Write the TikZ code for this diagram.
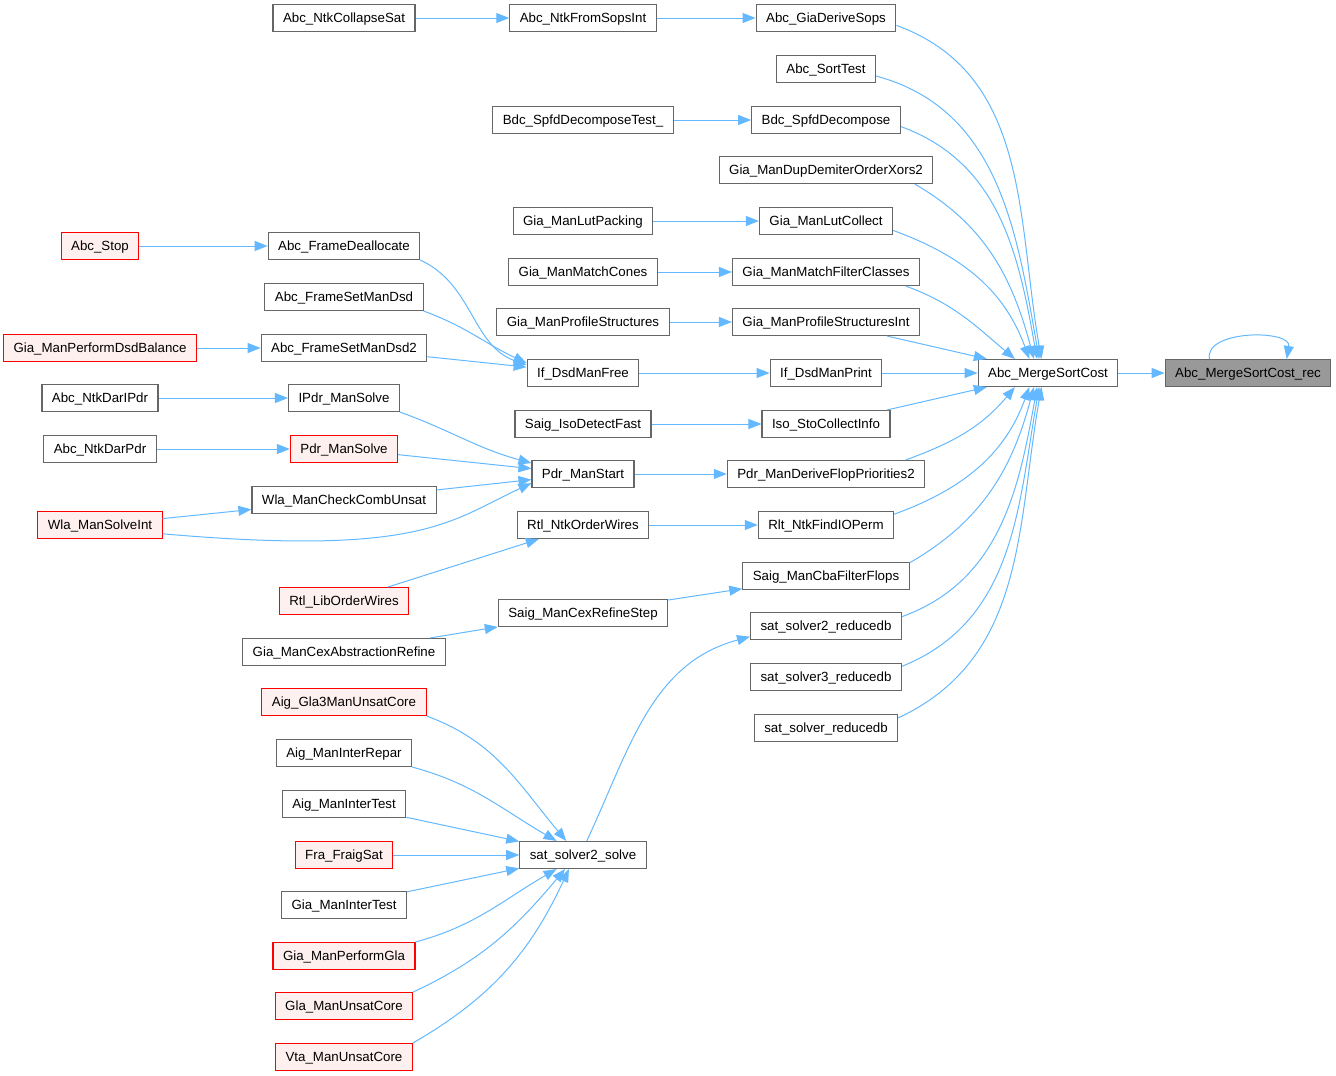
\documentclass[tikz,border=0pt]{standalone}
\usepackage{fontspec}
\setmainfont{Liberation Sans}
\usetikzlibrary{arrows.meta}
\definecolor{edgeblue}{HTML}{63B8FF}
\definecolor{boxgray}{HTML}{666666}
\definecolor{hitred}{HTML}{FF0000}
\definecolor{hitfill}{HTML}{FFF0F0}
\definecolor{curfill}{HTML}{999999}

\begin{document}
\begin{tikzpicture}[x=1pt,y=1pt,
  fn/.style={draw=boxgray,fill=white,line width=1.1pt,minimum height=27pt,
             inner xsep=10pt,inner ysep=0pt,text height=10.5pt,text depth=1pt,
             font=\fontsize{13.3}{15}\selectfont},
  fnred/.style={fn,draw=hitred,fill=hitfill},
  fncur/.style={fn,fill=curfill},
  arr/.style={-{Triangle[length=13pt,width=10pt]},edgeblue,line width=1pt}]
\useasboundingbox (0,0) rectangle (1336,-1076);
% function and its direct caller
\node[fncur] (rec) at (1248,-373) {Abc\_MergeSortCost\_rec};
\node[fn] (msc) at (1048,-373) {Abc\_MergeSortCost};
% callers of Abc_MergeSortCost
\node[fn] (gds) at (826,-18) {Abc\_GiaDeriveSops};
\node[fn] (sort) at (826,-69) {Abc\_SortTest};
\node[fn] (bdc) at (826,-120) {Bdc\_SpfdDecompose};
\node[fn] (dup) at (826,-170) {Gia\_ManDupDemiterOrderXors2};
\node[fn] (lutc) at (826,-221) {Gia\_ManLutCollect};
\node[fn] (mfc) at (826,-272) {Gia\_ManMatchFilterClasses};
\node[fn] (psi) at (826,-322) {Gia\_ManProfileStructuresInt};
\node[fn] (dprint) at (826,-373) {If\_DsdManPrint};
\node[fn] (iso) at (826,-424) {Iso\_StoCollectInfo};
\node[fn] (pdfp) at (826,-474) {Pdr\_ManDeriveFlopPriorities2};
\node[fn] (rlt) at (826,-525) {Rlt\_NtkFindIOPerm};
\node[fn] (cba) at (826,-576) {Saig\_ManCbaFilterFlops};
\node[fn] (sr2) at (826,-626) {sat\_solver2\_reducedb};
\node[fn] (sr3) at (826,-677) {sat\_solver3\_reducedb};
\node[fn] (sr1) at (826,-728) {sat\_solver\_reducedb};
% second level
\node[fn] (nfs) at (583,-18) {Abc\_NtkFromSopsInt};
\node[fn] (bdct) at (583,-120) {Bdc\_SpfdDecomposeTest\_};
\node[fn] (lutp) at (583,-221) {Gia\_ManLutPacking};
\node[fn] (mcon) at (583,-272) {Gia\_ManMatchCones};
\node[fn] (pstr) at (583,-322) {Gia\_ManProfileStructures};
\node[fn] (dfree) at (583,-373) {If\_DsdManFree};
\node[fn] (isod) at (583,-424) {Saig\_IsoDetectFast};
\node[fn] (pms) at (583,-474) {Pdr\_ManStart};
\node[fn] (rnow) at (583,-525) {Rtl\_NtkOrderWires};
\node[fn] (cexr) at (583,-613) {Saig\_ManCexRefineStep};
\node[fn] (ss2) at (583,-855) {sat\_solver2\_solve};
% third level
\node[fn] (ncs) at (344,-18) {Abc\_NtkCollapseSat};
\node[fn] (fdea) at (344,-246) {Abc\_FrameDeallocate};
\node[fn] (fsd) at (344,-297) {Abc\_FrameSetManDsd};
\node[fn] (fsd2) at (344,-348) {Abc\_FrameSetManDsd2};
\node[fn] (ipdr) at (344,-398) {IPdr\_ManSolve};
\node[fnred] (pdrs) at (344,-449) {Pdr\_ManSolve};
\node[fn] (wchk) at (344,-500) {Wla\_ManCheckCombUnsat};
\node[fnred] (rlib) at (344,-601) {Rtl\_LibOrderWires};
\node[fn] (cexa) at (344,-652) {Gia\_ManCexAbstractionRefine};
\node[fnred] (gla3) at (344,-702) {Aig\_Gla3ManUnsatCore};
\node[fn] (irep) at (344,-753) {Aig\_ManInterRepar};
\node[fn] (aitest) at (344,-804) {Aig\_ManInterTest};
\node[fnred] (fraig) at (344,-855) {Fra\_FraigSat};
\node[fn] (gitest) at (344,-905) {Gia\_ManInterTest};
\node[fnred] (pgla) at (344,-956) {Gia\_ManPerformGla};
\node[fnred] (glau) at (344,-1006) {Gla\_ManUnsatCore};
\node[fnred] (vtau) at (344,-1057) {Vta\_ManUnsatCore};
% fourth level
\node[fnred] (stop) at (100,-246) {Abc\_Stop};
\node[fnred] (dbal) at (100,-348) {Gia\_ManPerformDsdBalance};
\node[fn] (darip) at (100,-398) {Abc\_NtkDarIPdr};
\node[fn] (darp) at (100,-449) {Abc\_NtkDarPdr};
\node[fnred] (wsol) at (100,-525) {Wla\_ManSolveInt};
% straight calls
\foreach \u/\v in {ncs/nfs,nfs/gds,bdct/bdc,lutp/lutc,mcon/mfc,pstr/psi,stop/fdea,
  dbal/fsd2,fsd2/dfree,dfree/dprint,isod/iso,darip/ipdr,darp/pdrs,pdrs/pms,wchk/pms,
  wsol/wchk,pms/pdfp,rlib/rnow,rnow/rlt,cexa/cexr,cexr/cba,aitest/ss2,fraig/ss2,
  gitest/ss2,psi/msc,dprint/msc,iso/msc,msc/rec}{\draw[arr] (\u) -- (\v);}
% bent calls into Abc_MergeSortCost
\foreach \s/\a/\o/\i/\t in {gds/-6/-20/100/115,sort/-8/-15/100/122,bdc/-5/-20/100/128,
  dup/-9/-30/105/135,lutc/-8/-20/110/143,mfc/-10/-20/140/157,pdfp/10/20/-130/203,
  rlt/9/20/-110/217,cba/9/30/-105/225,sr2/7/20/-100/232,sr3/8/22/-100/238,
  sr1/8/25/-100/245}{\draw[arr] (\s.\a) to[out=\o,in=\i] (msc.\t);}
% other bent calls
\draw[arr] (fdea.south east) to[out=-25,in=160] (dfree.172);
\draw[arr] (fsd.south east) to[out=-20,in=155] (dfree.170);
\draw[arr] (ipdr.south east) to[out=-20,in=165] (pms.168);
\draw[arr] (wsol.-8) .. controls +(-5:260) and +(-155:90) .. (pms.190);
\draw[arr] (ss2.75) to[out=65,in=195] (sr2.188);
\draw[arr] (gla3.south east) to[out=-20,in=130] (ss2.140);
\draw[arr] (irep.south east) to[out=-15,in=150] (ss2.152);
\draw[arr] (pgla.north east) to[out=15,in=210] (ss2.208);
\draw[arr] (glau.north east) to[out=25,in=230] (ss2.218);
\draw[arr] (vtau.north east) to[out=30,in=245] (ss2.225);
\draw[arr] (rec.160) .. controls +(100:30) and +(80:30) .. (rec.20);
\end{tikzpicture}
\end{document}
